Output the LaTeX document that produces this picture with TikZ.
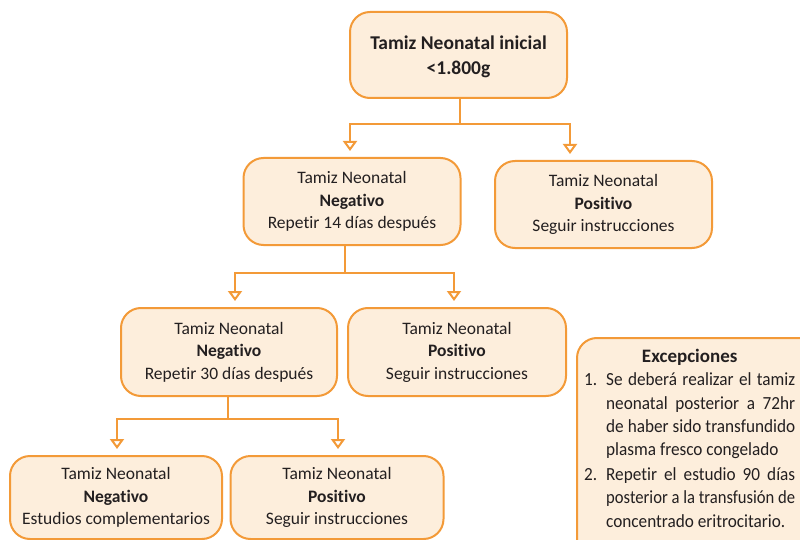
\documentclass[tikz,border=0pt]{standalone}
\usepackage{fontspec}
\usepackage{graphicx}
\setmainfont{Carlito}[Ligatures=NoCommon]
\newfontfamily\condfont{Carlito}[Ligatures=NoCommon, FakeStretch=0.93]
\usetikzlibrary{arrows.meta}
\definecolor{boxfill}{HTML}{FDEEDC}
\definecolor{boxline}{HTML}{F39A38}
\definecolor{txt}{HTML}{231F20}
\begin{document}
\begin{tikzpicture}[x=1pt,y=-1pt,
  box/.style={draw=boxline, fill=boxfill, line width=2pt, rounded corners=20pt,
    align=center, text=txt, font=\fontsize{17.5}{22.5}\selectfont, inner sep=0pt},
  conn/.style={draw=boxline, line width=2pt},
  arr/.style={conn, -{Triangle[open, length=10pt, width=14pt]}, shorten >=6pt}]
\useasboundingbox (0,0) rectangle (800,540);
\clip (0,0) rectangle (800,540);

\node[box, minimum width=217pt, minimum height=86pt, text depth=0pt,
  font=\fontsize{19.5}{25.5}\selectfont\bfseries]
  (top) at (458.5,55) {Tamiz Neonatal inicial\\<1.800g};

\node[box, minimum width=217pt, minimum height=87pt] (n2l) at (352,201.5)
  {Tamiz Neonatal\\\textbf{Negativo}\\Repetir 14 días después};
\node[box, minimum width=217pt, minimum height=87pt] (n2r) at (603.5,204.5)
  {Tamiz Neonatal\\\textbf{Positivo}\\Seguir instrucciones};

\node[box, minimum width=216pt, minimum height=88pt] (n3l) at (229,352)
  {Tamiz Neonatal\\\textbf{Negativo}\\Repetir 30 días después};
\node[box, minimum width=218pt, minimum height=88pt] (n3r) at (457,352)
  {Tamiz Neonatal\\\textbf{Positivo}\\Seguir instrucciones};

\node[box, minimum width=212pt, minimum height=83pt] (n4l) at (116,497.5)
  {Tamiz Neonatal\\\textbf{Negativo}\\Estudios complementarios};
\node[box, minimum width=213pt, minimum height=83pt] (n4r) at (337,497.5)
  {Tamiz Neonatal\\\textbf{Positivo}\\Seguir instrucciones};

% Excepciones box
\node[box, minimum width=245pt, minimum height=225pt] (exc) at (699.5,450.5) {};
\node[anchor=north west, text width=211pt, align=justify, inner sep=0pt, text=txt,
  font=\condfont\fontsize{18.5}{23.3}\selectfont] (exct) at (584,339) {%
  \par\noindent\hbox to \hsize{\hfil\normalfont\fontsize{19}{23.3}\selectfont\textbf{Excepciones}\hfil}\par
  \hangindent=22pt \hangafter=1 \noindent
  \hbox to 22pt{1.\hfil}Se deberá realizar el tamiz\linebreak neonatal posterior a 72hr\linebreak
  de haber sido transfundido\linebreak plasma fresco congelado\par
  \vspace{1.5pt}%
  \hangindent=22pt \hangafter=1 \noindent
  \hbox to 22pt{2.\hfil}Repetir el estudio 90 días\linebreak
  \resizebox{189pt}{\height}{posterior a la transfusión de}\linebreak
  concentrado eritrocitario.\par};

% connectors
\draw[conn] ([xshift=1.5pt]top.south) -- ++(0,25) coordinate (j1);
\draw[arr] (j1) -| ([xshift=-2pt]n2l.north);
\draw[arr] (j1) -| ([xshift=-33.5pt]n2r.north);

\draw[conn] ([xshift=-7pt]n2l.south) -- ++(0,27) coordinate (j2);
\draw[arr] (j2) -| ([xshift=6pt]n3l.north);
\draw[arr] (j2) -| ([xshift=-3pt]n3r.north);

\draw[conn] ([xshift=-1pt]n3l.south) -- ++(0,22) coordinate (j3);
\draw[arr] (j3) -| ([xshift=1pt]n4l.north);
\draw[arr] (j3) -| ([xshift=1pt]n4r.north);
\end{tikzpicture}
\end{document}
